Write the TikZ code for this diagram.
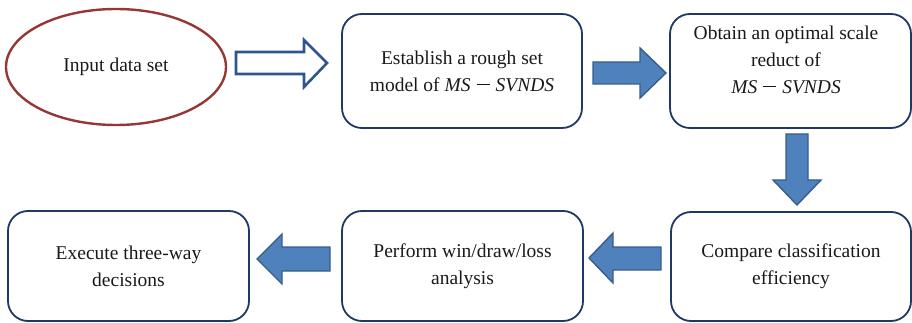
\documentclass[tikz,border=0pt]{standalone}
\usepackage{fontspec}
\setmainfont{Liberation Serif}
\usetikzlibrary{shapes.geometric}
\newcommand{\msname}{{\itshape MS}\hspace{6pt}\raisebox{0.5pt}{\rule[0.3em]{13pt}{1.1pt}}\hspace{6pt}{\itshape SVNDS}}
\definecolor{boxline}{HTML}{1F3864}
\definecolor{ovalline}{HTML}{953734}
\definecolor{arrowfill}{HTML}{4F81BD}
\definecolor{arrowline}{HTML}{385D8A}
\definecolor{hollowline}{HTML}{2F5590}
\begin{document}
\begin{tikzpicture}[x=1pt,y=-1pt,
  every node/.style={font=\fontsize{19.5pt}{27pt}\selectfont, text=black!90},
  stepbox/.style={draw=boxline, line width=1.8pt, rounded corners=20pt,
    minimum width=240pt, minimum height=110pt, align=center, inner sep=0pt},
  oval/.style={draw=ovalline, line width=2.4pt, ellipse, minimum width=220pt,
    minimum height=116pt, inner sep=0pt},
  blockarrow/.style={fill=arrowfill, draw=arrowline, line width=1.4pt, line join=miter},
  hollowarrow/.style={fill=white, draw=hollowline, line width=2.6pt, line join=miter}]
  \useasboundingbox (0,0) rectangle (912,323);

  % flow steps
  \node[oval] (input) at (116,67) {Input data set};
  \node[stepbox, minimum height=114pt] (rough) at (462,71)
    {Establish a rough set\\ model of \msname};
  \node[stepbox, minimum width=241pt, minimum height=114pt] (reduct) at (790.5,71) {};
  \node[align=center, inner sep=0pt] (reducttext) at (786,60)
    {Obtain an optimal scale\\ reduct of\\ \msname};
  \node[stepbox, minimum height=109pt] (compare) at (791,266.5)
    {Compare classification\\ efficiency};
  \node[stepbox, minimum width=241pt] (perform) at (462.5,266)
    {Perform win/draw/loss\\ analysis};
  \node[stepbox, minimum width=241pt] (execute) at (128.5,266)
    {Execute three-way\\ decisions};

  % block arrows between the steps
  \draw[hollowarrow] (236,52) -- (304,52) -- (304,40) -- (327,63)
    -- (304,87) -- (304,74) -- (236,74) -- cycle;
  \draw[blockarrow] (593,62) -- (640,62) -- (640,48) -- (666,73)
    -- (640,98) -- (640,84) -- (593,84) -- cycle;
  \draw[blockarrow] (786,134) -- (808,134) -- (808,180) -- (821,180)
    -- (797,205) -- (773,180) -- (786,180) -- cycle;
  \draw[blockarrow] (661,247) -- (613,247) -- (613,233) -- (589,258)
    -- (613,283) -- (613,270) -- (661,270) -- cycle;
  \draw[blockarrow] (330,247) -- (282,247) -- (282,234) -- (257,259)
    -- (282,284) -- (282,271) -- (330,271) -- cycle;
\end{tikzpicture}
\end{document}
